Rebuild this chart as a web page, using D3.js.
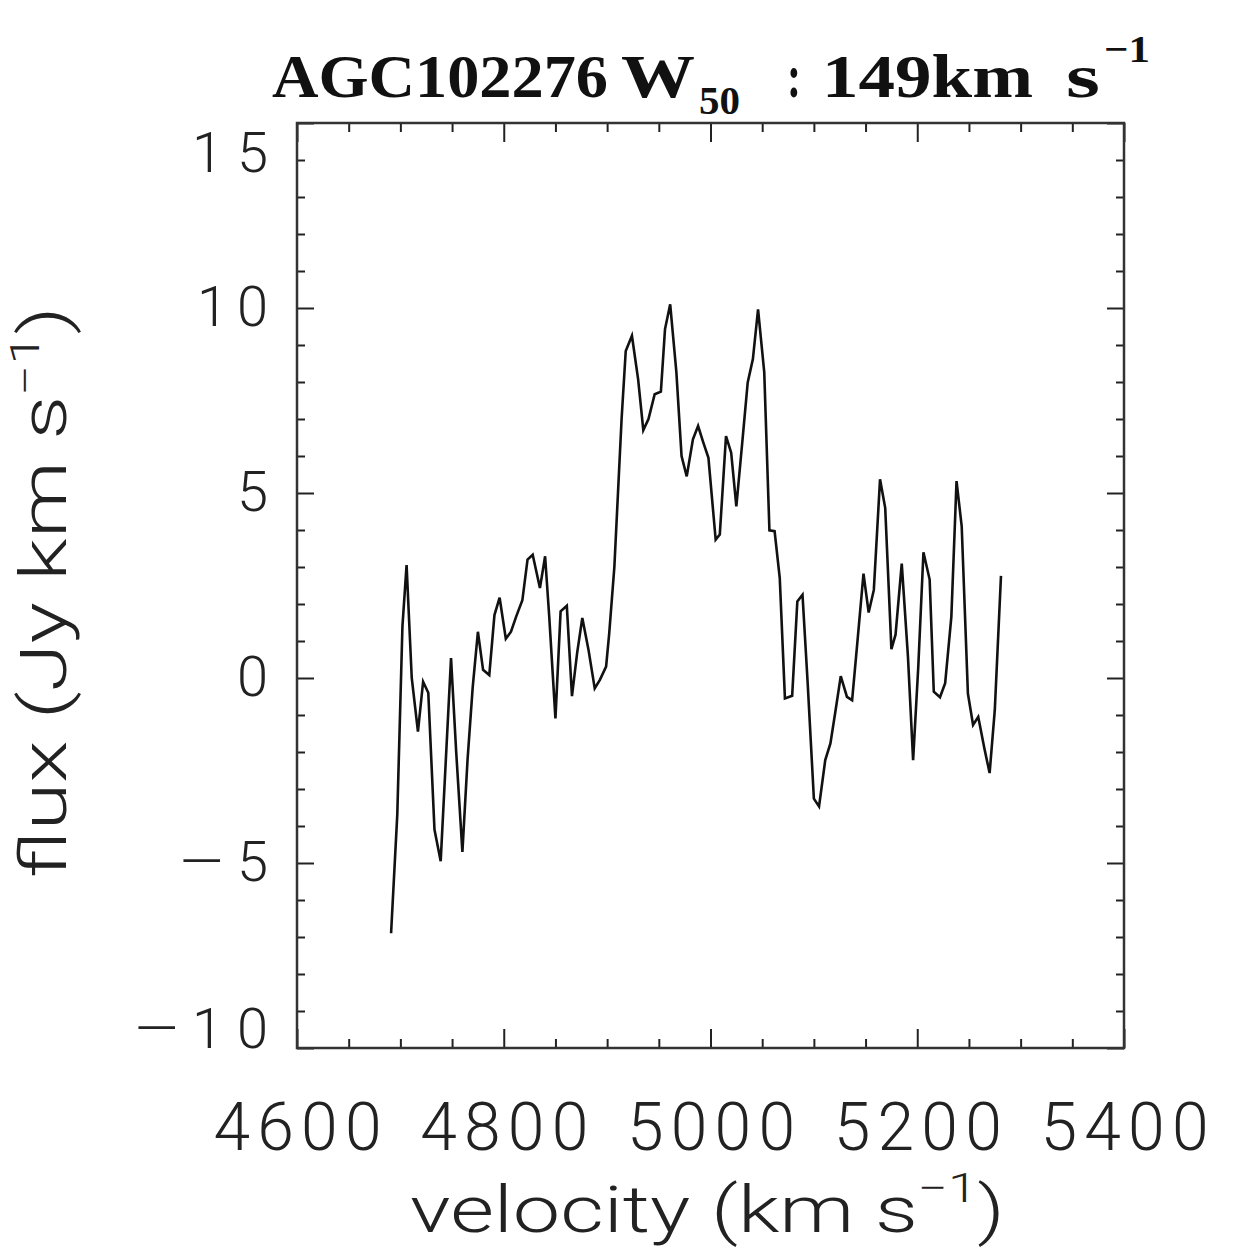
<!DOCTYPE html>
<html>
  <head>
    <meta charset="utf-8">
    <title>AGC102276 HI spectrum</title>
    <script src="https://d3js.org/d3.v7.min.js"></script>
    <style>
      body { margin: 0; background: #fff; }
      .ticklabel { font-family: "Roboto", "Liberation Sans", sans-serif; font-weight: 300; fill: #222; }
      .axtitle { font-family: "Roboto", "Liberation Sans", sans-serif; font-weight: 300; fill: #222; }
      .title { font-family: "Liberation Serif", "DejaVu Serif", serif; font-weight: bold; fill: #111; }
    </style>
  </head>
  <body>
    <div id="chart"></div>
    <script>
      // spectrum
      var velocity = [
        4691, 4697, 4702, 4706, 4711, 4717, 4722, 4727, 4733, 4739,
        4744, 4749, 4754, 4760, 4765, 4770, 4775, 4780, 4786, 4791,
        4796, 4802, 4807, 4812, 4818, 4823, 4828, 4835, 4840, 4844,
        4850, 4855, 4861, 4866, 4871, 4876, 4882, 4888, 4893, 4899,
        4902, 4907, 4914, 4918, 4924, 4930, 4935, 4940, 4946, 4952,
        4956, 4961, 4967, 4972, 4977, 4983, 4988, 4993, 4998, 5005,
        5009, 5015, 5020, 5025, 5031, 5036, 5041, 5046, 5052, 5057,
        5062, 5067, 5072, 5079, 5084, 5089, 5094, 5100, 5105, 5111,
        5116, 5121, 5126, 5132, 5137, 5142, 5148, 5153, 5158, 5164,
        5169, 5175, 5179, 5185, 5191, 5196, 5201, 5206, 5212, 5216,
        5222, 5227, 5233, 5238, 5243, 5249, 5254, 5259, 5265, 5270,
        5275, 5281
      ];
      var flux = [
        -6.9, -3.7, 1.4, 3.05, 0.0, -1.45, -0.1, -0.4, -4.1, -4.95,
        -2.2, 0.54, -2.0, -4.7, -2.2, -0.24, 1.25, 0.22, 0.08, 1.7,
        2.17, 1.06, 1.25, 1.66, 2.1, 3.2, 3.33, 2.43, 3.29, 1.66,
        -1.09, 1.8, 1.95, -0.49, 0.68, 1.62, 0.76, -0.28, -0.05, 0.31,
        1.2, 3.0, 7.0, 8.84, 9.25, 8.07, 6.7, 7.0, 7.67, 7.74,
        9.43, 10.1, 8.26, 6.0, 5.45, 6.45, 6.81, 6.37, 5.95, 3.74,
        3.88, 6.54, 6.09, 4.64, 6.45, 7.99, 8.62, 9.96, 8.26, 3.99,
        3.97, 2.7, -0.55, -0.48, 2.07, 2.25, -0.14, -3.26, -3.47, -2.22,
        -1.77, -0.87, 0.05, -0.51, -0.6, 0.94, 2.82, 1.77, 2.38, 5.37,
        4.6, 0.78, 1.17, 3.09, 0.58, -2.22, 0.31, 3.4, 2.66, -0.37,
        -0.52, -0.14, 1.66, 5.32, 4.1, -0.42, -1.27, -1.05, -1.91, -2.57,
        -0.87, 2.76
      ];

      var xMajor = [4600, 4800, 5000, 5200, 5400];
      var xMinor = [4650, 4700, 4750, 4850, 4900, 4950, 5050, 5100, 5150, 5250, 5300, 5350];
      var yMajor = [-10, -5, 0, 5, 10, 15];
      var yMinor = [-9, -8, -7, -6, -4, -3, -2, -1, 1, 2, 3, 4, 6, 7, 8, 9, 11, 12, 13, 14];

      var width = 1250, height = 1250;
      var margin = { left: 297, right: 126, top: 123, bottom: 202 };

      var svg = d3.select("#chart").append("svg")
        .attr("width", width)
        .attr("height", height);

      var x = d3.scaleLinear().domain([4600, 5400]).range([margin.left, width - margin.right]);
      var y = d3.scaleLinear().domain([-10, 15]).range([height - margin.bottom, margin.top]);

      var x0 = x.range()[0], x1 = x.range()[1];
      var y0 = y.range()[0], y1 = y.range()[1];

      function fmt(d) { return d < 0 ? "\u2014" + Math.abs(d) : "" + d; }

      // ticks, all pointing in
      function tickAxis(axis, tr, vals, size, labels) {
        var g = svg.append("g").attr("transform", tr)
          .call(axis.tickValues(vals).tickSizeInner(-size).tickSizeOuter(0)
            .tickFormat(labels ? fmt : ""));
        g.select(".domain").remove();
        g.selectAll(".tick line").attr("stroke", "#222").attr("stroke-width", 2);
        return g;
      }

      var gxb = tickAxis(d3.axisBottom(x).tickPadding(55), "translate(0," + y0 + ")", xMajor, 19, true);
      tickAxis(d3.axisBottom(x), "translate(0," + y0 + ")", xMinor, 9, false);
      tickAxis(d3.axisTop(x), "translate(0," + y1 + ")", xMajor, 19, false);
      tickAxis(d3.axisTop(x), "translate(0," + y1 + ")", xMinor, 9, false);

      var gyl = tickAxis(d3.axisLeft(y).tickPadding(29), "translate(" + x0 + ",0)", yMajor, 17, true);
      tickAxis(d3.axisLeft(y), "translate(" + x0 + ",0)", yMinor, 8, false);
      tickAxis(d3.axisRight(y), "translate(" + x1 + ",0)", yMajor, 17, false);
      tickAxis(d3.axisRight(y), "translate(" + x1 + ",0)", yMinor, 8, false);

      gxb.selectAll(".tick text")
        .attr("class", "ticklabel")
        .attr("font-size", 66)
        .attr("textLength", 168)
        .attr("lengthAdjust", "spacing");

      // end labels sit a little inside the frame, as in the original
      var yLen = { "-10": 133, "-5": 88, "0": 36, "5": 35, "10": 71, "15": 76 };
      var yShift = { "-10": -18, "15": 31 };
      gyl.selectAll(".tick text")
        .attr("class", "ticklabel")
        .attr("font-size", 56)
        .attr("y", function(d) { return yShift[d] || 0; })
        .attr("textLength", function(d) { return yLen[d]; })
        .attr("lengthAdjust", "spacing");

      // frame
      svg.append("rect")
        .attr("x", x0).attr("y", y1)
        .attr("width", x1 - x0).attr("height", y0 - y1)
        .attr("fill", "none")
        .attr("stroke", "#333")
        .attr("stroke-width", 2.5);

      var line = d3.line()
        .x(function(d) { return x(d[0]); })
        .y(function(d) { return y(d[1]); });

      svg.append("path")
        .datum(d3.zip(velocity, flux))
        .attr("d", line)
        .attr("fill", "none")
        .attr("stroke", "#111")
        .attr("stroke-width", 2.6)
        .attr("stroke-linejoin", "miter");

      // squeeze a text element horizontally to a target width
      function fitWidth(t, left, w) {
        var bb = t.node().getBBox();
        var s = w / bb.width;
        t.attr("transform", "translate(" + left + ",0) scale(" + s + ",1) translate(" + (-bb.x) + ",0)");
      }

      // title, laid out piece by piece
      function piece(txt, left, w, base, size) {
        svg.append("text").attr("class", "title")
          .attr("x", left).attr("y", base)
          .attr("font-size", size)
          .attr("textLength", w)
          .attr("lengthAdjust", "spacingAndGlyphs")
          .text(txt);
      }
      piece("AGC102276", 272, 336, 97, 62);
      piece("W", 621, 74, 97, 62);
      piece("50", 699, 41, 114, 40);
      piece(":", 787, 14, 97, 62);
      piece("149km", 822, 211, 97, 62);
      piece("s", 1066, 34, 97, 62);
      piece("\u22121", 1104, 46, 62, 38);

      // x title
      var xt = svg.append("text").attr("class", "axtitle")
        .attr("x", 0).attr("y", 1232).attr("font-size", 64);
      xt.append("tspan").text("velocity (km s");
      xt.append("tspan").attr("font-size", 40).attr("dy", -30).text("\u22121");
      xt.append("tspan").attr("dy", 30).text(")");
      fitWidth(xt, 410, 595);

      // y title, rotated
      var yg = svg.append("g").attr("transform", "translate(66,878) rotate(-90)");
      var yt = yg.append("text").attr("class", "axtitle")
        .attr("x", 0).attr("y", 0).attr("font-size", 64);
      yt.append("tspan").text("flux (Jy km s");
      yt.append("tspan").attr("font-size", 40).attr("dy", -27).text("\u22121");
      yt.append("tspan").attr("dy", 27).text(")");
      fitWidth(yt, 0, 572);
    </script>
  </body>
</html>
